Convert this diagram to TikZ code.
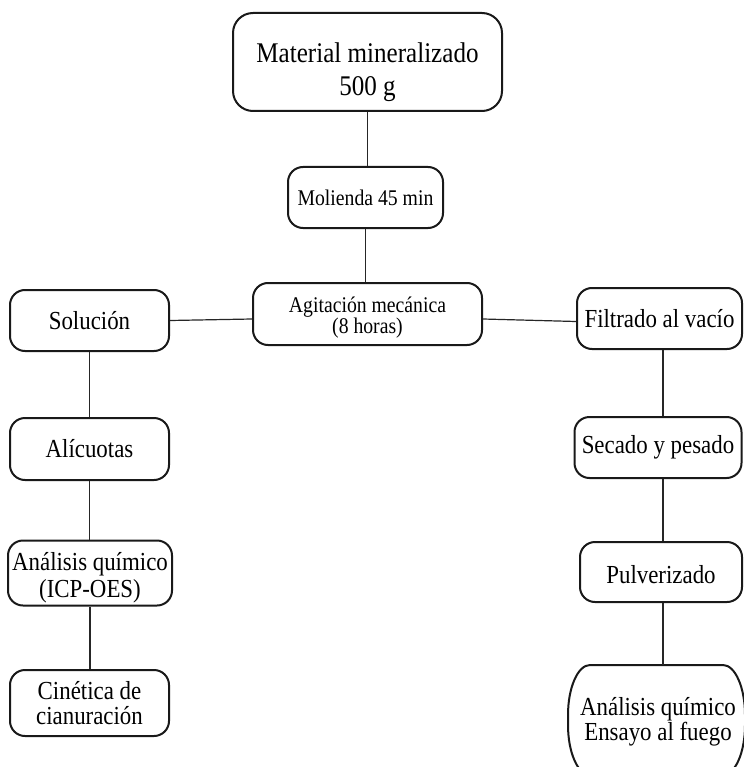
\documentclass[tikz,border=0pt]{standalone}
\usepackage{fontspec}
\setmainfont{Liberation Serif}[FakeStretch=0.88]
\begin{document}
\begin{tikzpicture}[x=1pt,y=-1pt,
  stepbox/.style={draw=black!90, line width=2pt, rectangle, rounded corners=15pt,
    inner sep=0pt, align=center, fill=white},
  plain/.style={inner sep=0pt, align=center},
  bigtext/.style={font=\fontsize{28.5}{33}\selectfont},
  regtext/.style={font=\fontsize{26}{26}\selectfont},
  smalltext/.style={font=\fontsize{22.4}{21}\selectfont},
  conn/.style={draw=black!85, line width=1.2pt}]
\useasboundingbox (0,0) rectangle (743,767);
% boxes
\node[stepbox, rounded corners=20pt, minimum width=269pt, minimum height=98pt] (top) at (367.5,62) {};
\node[plain, bigtext] (toptext) at (367.5,72) {Material mineralizado\\500 g};
\node[stepbox, smalltext, minimum width=155pt, minimum height=61pt] (mol) at (365.5,197.5) {Molienda 45 min};
\node[stepbox, minimum width=229pt, minimum height=62pt] (agit) at (367.5,314) {};
\node[plain, smalltext] (agittext) at (367.5,318) {Agitación mecánica\\(8 horas)};
\node[stepbox, regtext, minimum width=159pt, minimum height=61pt] (sol) at (89.5,320.5) {Solución};
\node[stepbox, regtext, minimum width=165pt, minimum height=61pt] (filt) at (659.5,318.5) {Filtrado al vacío};
\node[stepbox, regtext, minimum width=159pt, minimum height=62pt] (alic) at (89.5,449) {Alícuotas};
\node[stepbox, regtext, minimum width=167pt, minimum height=61pt] (sec) at (658,447.5) {Secado y pesado};
\node[stepbox, minimum width=164pt, minimum height=65pt] (icp) at (90,573) {};
\node[plain, font=\fontsize{26}{27}\selectfont] (icptext) at (90,578) {Análisis químico\\(ICP-OES)};
\node[stepbox, regtext, font=\fontsize{26}{25}\selectfont, minimum width=159pt, minimum height=66pt] (cin) at (89.5,703) {Cinética de\\cianuración};
\node[stepbox, regtext, minimum width=162pt, minimum height=60pt] (pulv) at (661,572) {};
\node[plain, regtext] (pulvtext) at (661,575) {Pulverizado};
% bottom-right rounded shape (cut by the page edge)
\node[plain, minimum width=177pt, minimum height=110pt] (fire) at (656.5,720) {};
\draw[draw=black!90, line width=2pt]
  (590,665) -- (723,665)
  .. controls (735.1,665) and (745,687.4) .. (745,715) -- (745,725)
  .. controls (745,752.6) and (735.1,775) .. (723,775) -- (590,775)
  .. controls (577.9,775) and (568,752.6) .. (568,725) -- (568,715)
  .. controls (568,687.4) and (577.9,665) .. cycle;
\node[plain, font=\fontsize{26}{25}\selectfont] (firetext) at (658,722) {Análisis químico\\Ensayo al fuego};
% connectors
\draw[conn] (top.south) -- (top.south |- mol.north);
\draw[conn] (mol.south) -- (mol.south |- agit.north);
\draw[conn] (sol.east) -- ([yshift=-5pt]agit.west);
\draw[conn] ([yshift=-5pt]agit.east) -- ([yshift=-3pt]filt.west);
\draw[conn] (sol.south) -- (alic.north);
\draw[conn] (alic.south) -- (alic.south |- icp.north);
\draw[conn] (icp.south) -- (icp.south |- cin.north);
\draw[conn] ([xshift=3.5pt]filt.south) -- ([xshift=3.5pt]filt.south |- sec.north);
\draw[conn] ([xshift=5pt]sec.south) -- ([xshift=5pt]sec.south |- pulv.north);
\draw[conn] ([xshift=2pt]pulv.south) -- ([xshift=2pt]pulv.south |- fire.north);
\end{tikzpicture}
\end{document}
